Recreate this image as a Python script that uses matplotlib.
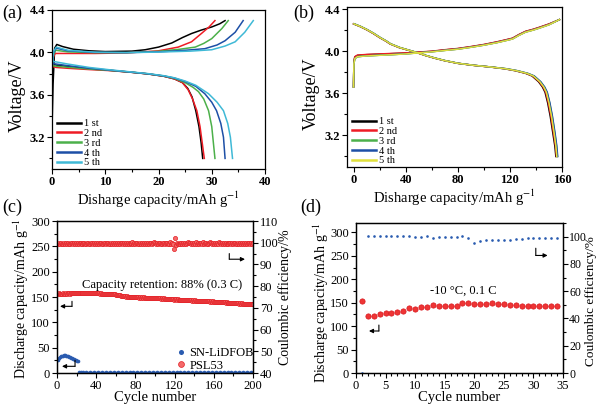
import matplotlib
matplotlib.use("Agg")
import matplotlib.pyplot as plt
from matplotlib.ticker import MultipleLocator

plt.rcParams['font.family'] = ['Liberation Serif', 'DejaVu Serif']
plt.rcParams['mathtext.fontset'] = 'stix'

# ---------------- (a) SN-LiDFOB charge / discharge, 5 cycles ----------------
cycle_labels = ["1 st", "2 nd", "3 rd", "4 th", "5 th"]
colors_a = ["#000000", "#ee1c25", "#4cb04a", "#1d4fa6", "#3fb9d6"]

a_chg_x = [
    [0, 0.2, 0.5, 0.9, 2, 4, 7, 10, 15, 17.5, 20, 22.5, 24.5, 26.2, 28, 30, 31.5, 32.5],
    [0, 0.3, 0.6, 3, 8, 14, 20, 23.7, 26.2, 28.1, 29.5, 30.6],
    [0, 0.3, 0.7, 3, 8, 14, 20, 24, 26.9, 28.5, 30, 31.9, 33.1],
    [0, 0.3, 0.8, 3, 8, 14, 20, 25, 28.7, 31, 32.5, 34.4, 35.9],
    [0, 0.3, 0.8, 3, 8, 14, 20, 26, 30, 32.5, 34.4, 36.2, 37.8],
]
a_chg_v = [
    [3.28, 3.70, 4.04, 4.075, 4.055, 4.03, 4.015, 4.008, 4.012, 4.025, 4.05, 4.089, 4.14, 4.178, 4.21, 4.24, 4.27, 4.30],
    [3.85, 3.96, 3.99, 3.99, 3.99, 3.995, 4.015, 4.05, 4.10, 4.18, 4.24, 4.30],
    [3.85, 3.98, 4.02, 4.005, 3.998, 3.998, 4.01, 4.03, 4.05, 4.085, 4.13, 4.225, 4.30],
    [3.85, 4.00, 4.04, 4.015, 4.00, 3.998, 4.005, 4.02, 4.035, 4.07, 4.11, 4.19, 4.30],
    [3.86, 4.01, 4.05, 4.02, 4.002, 3.998, 4.003, 4.012, 4.025, 4.06, 4.10, 4.19, 4.30],
]
a_dis_x = [
    [0, 0.2, 0.8, 3, 7, 11, 15, 18, 21, 23, 24.5, 25.5, 26.3, 27.0, 27.6, 28.0, 28.3],
    [0, 0.2, 0.8, 3, 7, 11, 15, 18, 21, 23, 24.5, 25.6, 26.4, 27.2, 27.8, 28.2, 28.6],
    [0, 0.2, 0.8, 3, 7, 11, 15, 18, 21, 23, 25, 26.5, 27.5, 28.5, 29.4, 30.0, 30.3, 30.6],
    [0, 0.2, 0.8, 3, 7, 11, 15, 18, 21, 23, 25, 27, 28.7, 30, 30.9, 31.7, 32.2, 32.5],
    [0, 0.2, 0.8, 3, 7, 11, 15, 18, 21, 23, 25, 27, 29.4, 31, 32.2, 33.0, 33.5, 33.9],
]
a_dis_v = [
    [3.93, 3.89, 3.88, 3.865, 3.845, 3.83, 3.812, 3.797, 3.775, 3.75, 3.715, 3.66, 3.58, 3.45, 3.30, 3.15, 3.0],
    [3.90, 3.865, 3.858, 3.85, 3.838, 3.828, 3.812, 3.797, 3.775, 3.75, 3.715, 3.645, 3.56, 3.45, 3.30, 3.15, 3.0],
    [3.91, 3.875, 3.87, 3.86, 3.843, 3.83, 3.813, 3.798, 3.777, 3.755, 3.715, 3.67, 3.63, 3.56, 3.45, 3.30, 3.15, 3.0],
    [3.93, 3.895, 3.89, 3.875, 3.85, 3.832, 3.813, 3.798, 3.778, 3.758, 3.725, 3.68, 3.61, 3.53, 3.45, 3.33, 3.20, 3.0],
    [3.95, 3.915, 3.91, 3.89, 3.858, 3.835, 3.815, 3.80, 3.78, 3.76, 3.73, 3.69, 3.61, 3.53, 3.45, 3.33, 3.20, 3.0],
]

# ---------------- (b) PSL53 charge / discharge, 5 cycles ----------------
colors_b = ["#000000", "#ee1c25", "#4cb04a", "#1d4fa6", "#e0e03c"]

b_chg_x = [0, 0.3, 1, 3, 10, 20, 30, 40, 50, 60, 70, 80, 90, 100, 110, 117, 122, 127, 132, 138, 143, 150, 158]
b_chg_v = [
    [3.66, 3.90, 3.945, 3.96, 3.967, 3.972, 3.977, 3.982, 3.99, 3.998, 4.012, 4.024, 4.042, 4.062, 4.087, 4.107, 4.122, 4.157, 4.187, 4.207, 4.227, 4.257, 4.30],
    [3.66, 3.90, 3.948, 3.963, 3.969, 3.974, 3.979, 3.984, 3.992, 4.0, 4.014, 4.026, 4.044, 4.064, 4.089, 4.109, 4.124, 4.159, 4.189, 4.209, 4.229, 4.259, 4.30],
    [3.66, 3.88, 3.93, 3.948, 3.956, 3.962, 3.968, 3.975, 3.985, 3.995, 4.008, 4.02, 4.038, 4.058, 4.082, 4.102, 4.117, 4.152, 4.182, 4.202, 4.222, 4.252, 4.30],
    [3.66, 3.88, 3.93, 3.948, 3.956, 3.962, 3.968, 3.975, 3.985, 3.995, 4.008, 4.02, 4.038, 4.058, 4.082, 4.102, 4.117, 4.152, 4.182, 4.202, 4.222, 4.252, 4.30],
    [3.66, 3.88, 3.93, 3.948, 3.955, 3.961, 3.967, 3.974, 3.984, 3.994, 4.007, 4.019, 4.037, 4.057, 4.081, 4.101, 4.116, 4.151, 4.181, 4.201, 4.221, 4.251, 4.30],
]
b_dis_v = [4.26, 4.235, 4.205, 4.17, 4.13, 4.095, 4.07, 4.035, 4.01, 3.985, 3.96, 3.935, 3.91, 3.885,
           3.866, 3.85, 3.833, 3.815, 3.79, 3.765, 3.71, 3.66, 3.61, 3.51, 3.38, 3.22, 3.10, 3.0]
b_dis_x = [
    [0, 5, 10, 15, 20, 25, 28, 35, 42, 49, 55, 62, 70, 80, 92, 105, 116, 124, 132, 137, 142, 145, 147, 149, 151, 153, 154.5, 155.3],
    [0, 5, 10, 15, 20, 25, 28, 35, 42, 49, 55, 62, 70, 80, 92, 105, 116.5, 124.5, 132.5, 137.5, 142.5, 145.5, 147.5, 149.5, 151.5, 153.5, 155, 155.8],
    [0.5, 5.5, 10.5, 15.5, 20.5, 25.5, 28.5, 35.5, 42.5, 49.5, 55.5, 62.5, 70.5, 80.5, 92.5, 105.5, 117.5, 125.5, 133.5, 138.5, 143.5, 146.5, 148.5, 150.5, 152.5, 154.5, 155.8, 156.5],
    [0.5, 5.5, 10.5, 15.5, 20.5, 25.5, 28.5, 35.5, 42.5, 49.5, 55.5, 62.5, 70.5, 80.5, 92.5, 105.5, 117.7, 125.7, 133.7, 138.7, 143.7, 146.7, 148.7, 150.7, 152.7, 154.7, 156, 156.7],
    [0.3, 5.3, 10.3, 15.3, 20.3, 25.3, 28.3, 35.3, 42.3, 49.3, 55.3, 62.3, 70.3, 80.3, 92.3, 105.3, 117, 125, 133, 138, 143, 146, 148, 150, 152, 154, 155.3, 156],
]

# ---------------- (c) long cycling at 0.3 C ----------------
cap_psl53 = [
    156.5, 157, 156, 156.8, 156.2, 157.1, 156.5, 156.9, 157.3, 156.7,
    157, 157.4, 156.8, 157.6, 157.2, 157.8, 157.3, 157.9, 157.5, 158,
    157.6, 158.2, 157.8, 158.4, 157.9, 158.3, 158.6, 158.1, 158.5, 158.2,
    158.4, 157.9, 158.3, 157.8, 158.1, 157.6, 157.9, 157.4, 157.8, 157.3,
    157.5, 157.1, 157.4, 156.8, 157.2, 156.6, 156.9, 156.4, 156.7, 156.2,
    156.5, 155.9, 156.3, 155.7, 156.1, 155.5, 155.8, 155.2, 155.6, 154.9,
    154.8, 154.1, 153.6, 153.1, 152.5, 152.2, 151.7, 151.3, 151.6, 150.9,
    151.2, 150.5, 150.8, 150.2, 150.6, 149.9, 150.3, 149.7, 150.1, 149.5,
    149.8, 149.2, 149.6, 149, 149.4, 148.8, 149.3, 148.7, 149.1, 148.5,
    149, 148.4, 148.8, 148.2, 148.7, 148.1, 148.5, 147.9, 148.4, 147.8,
    148.1, 147.5, 147.9, 147.2, 147.6, 146.9, 147.3, 146.7, 147.1, 146.5,
    146.9, 146.3, 146.7, 146.1, 146.5, 145.8, 146.2, 145.5, 143.5, 145.2,
    145.6, 144.9, 145.3, 144.6, 145, 144.3, 144.7, 144.1, 144.5, 143.9,
    144.2, 143.6, 144, 143.4, 143.8, 143.2, 143.6, 143, 143.4, 142.8,
    143.2, 142.6, 143, 142.4, 142.8, 142.2, 142.6, 142, 142.4, 141.8,
    142.1, 141.5, 141.9, 141.3, 141.7, 141.1, 141.5, 140.9, 141.2, 140.6,
    141, 140.4, 140.7, 140.1, 140.5, 139.8, 140.2, 139.6, 139.9, 139.3,
    139.6, 139, 139.3, 138.7, 139, 138.4, 138.7, 138.1, 138.5, 137.9,
    138.2, 137.6, 137.9, 137.3, 137.7, 137.1, 137.4, 136.8, 137.2, 136.6,
    137, 136.4, 136.8, 136.2, 136.6, 136, 136.4, 135.8, 136.2, 135.7,
]
ce_psl53 = [
    99.4, 99.7, 99.5, 99.8, 99.6, 99.5, 99.9, 99.6, 99.7, 99.4,
    99.8, 99.6, 99.5, 99.9, 99.7, 99.6, 99.8, 99.5, 99.7, 99.6,
    99.9, 99.5, 99.7, 99.8, 99.6, 99.4, 99.7, 99.9, 99.6, 99.5,
    99.8, 99.7, 99.5, 99.6, 99.9, 99.7, 99.4, 99.8, 99.6, 99.7,
    99.5, 99.8, 99.6, 99.9, 99.7, 99.5, 99.6, 99.8, 99.7, 99.4,
    99.7, 99.9, 99.6, 99.5, 99.8, 99.6, 99.7, 99.5, 99.9, 99.6,
    99.8, 99.5, 99.7, 99.6, 99.9, 99.7, 99.5, 99.8, 99.6, 99.7,
    99.4, 99.8, 99.6, 99.9, 99.5, 99.7, 100.4, 99.6, 99.8, 99.5,
    99.7, 99.9, 99.6, 99.5, 99.8, 99.6, 99.7, 99.4, 99.9, 99.6,
    99.8, 99.5, 99.7, 99.6, 99.9, 99.7, 99.5, 99.8, 100.4, 99.7,
    99.5, 99.8, 99.6, 99.9, 99.7, 99.5, 99.6, 99.8, 99.7, 99.4,
    99.7, 99.9, 99.6, 99.5, 100.3, 99.6, 99.7, 99.2, 97.3, 102.3,
    99.0, 99.8, 99.6, 99.5, 99.8, 99.6, 99.7, 99.5, 99.9, 99.6,
    99.8, 99.5, 99.7, 100.2, 99.9, 99.7, 99.5, 99.8, 99.6, 99.7,
    99.4, 100.3, 99.6, 99.9, 99.5, 99.7, 99.8, 99.6, 100.2, 99.5,
    99.7, 99.9, 99.6, 99.5, 99.8, 100.3, 99.7, 99.4, 99.9, 99.6,
    99.8, 99.5, 99.7, 99.6, 100.2, 99.7, 99.5, 99.8, 99.6, 99.7,
    99.4, 99.8, 99.6, 99.9, 99.5, 99.7, 99.8, 99.6, 99.9, 99.5,
    99.7, 99.9, 99.6, 99.5, 99.8, 99.6, 99.7, 99.4, 99.9, 99.6,
    99.8, 99.5, 99.7, 99.6, 99.9, 99.7, 99.5, 99.8, 99.6, 99.7,
]
cycles_c = list(range(1, 201))
cap_sn_early = [26, 29, 31, 33, 34, 34.5, 35, 35, 34.5, 34, 33, 32, 31, 30, 29, 28, 27, 26, 25, 24, 23.5]
cap_sn_late = [
    1.0, 0.9, 1.0, 0.8, 0.9, 1.0, 0.9, 0.8, 1.0, 0.9, 0.8, 0.9, 1.0, 0.9, 0.8, 0.9, 1.0, 0.9, 0.8, 0.9,
    1.0, 0.9, 0.8, 0.9, 1.0, 0.9, 0.8, 0.9, 1.0, 0.9, 0.8, 0.9, 1.0, 0.9, 0.8, 0.9, 1.0, 0.9, 0.8, 0.9,
    1.0, 0.9, 0.8, 0.9, 1.0, 0.9, 0.8, 0.9, 1.0, 0.9, 0.8, 0.9, 1.0, 0.9, 0.8, 0.9, 1.0, 0.9, 0.8, 0.9,
    1.0, 0.9, 0.8, 0.9, 1.0, 0.9, 0.8, 0.9, 1.0, 0.9, 0.8, 0.9, 1.0, 0.9, 0.8, 0.9, 1.0, 0.9, 0.8, 0.9,
    1.0, 0.9, 0.8, 0.9, 1.0, 0.9, 0.8, 0.9, 1.0, 0.9, 0.8, 0.9, 1.0, 0.9, 0.8, 0.9, 1.0, 0.9, 0.8, 0.9,
    1.0, 0.9, 0.8, 0.9, 1.0, 0.9, 0.8, 0.9, 1.0, 0.9, 0.8, 0.9, 1.0, 0.9, 0.8, 0.9, 1.0, 0.9, 0.8, 0.9,
    1.0, 0.9, 0.8, 0.9, 1.0, 0.9, 0.8, 0.9, 1.0, 0.9, 0.8, 0.9, 1.0, 0.9, 0.8, 0.9, 1.0, 0.9, 0.8, 0.9,
    1.0, 0.9, 0.8, 0.9, 1.0, 0.9, 0.8, 0.9, 1.0, 0.9, 0.8, 0.9, 1.0, 0.9, 0.8, 0.9, 1.0, 0.9, 0.8, 0.9,
    1.0, 0.9, 0.8, 0.9, 1.0, 0.9, 0.8, 0.9, 1.0, 0.9, 0.8, 0.9, 1.0, 0.9, 0.8, 0.9, 1.0, 0.9, 0.8,
]
cap_sn = cap_sn_early + cap_sn_late

# ---------------- (d) -10 C, 0.1 C ----------------
cycles_d = list(range(1, 35))
cap_d = [154, 121, 121, 125, 127, 128.5, 131, 133, 139, 137.6, 140.5, 140.5, 144.7, 143, 143, 143, 143,
         149.6, 149.6, 147.5, 147.5, 148, 149, 147.5, 147, 146, 146, 143, 143, 143, 143, 143, 143, 143]
ce_d = [0, 100.2, 100.7, 100.5, 100.5, 100.5, 100.5, 100.2, 100.5, 100, 100, 100.5, 99, 100, 99.7, 99.7, 99.7,
        100.5, 99, 95.1, 96.6, 97.8, 97.8, 97.3, 97.5, 97.8, 98.3, 98.3, 99.3, 99.3, 99.3, 99.3, 99, 99]

cap_label = "Discharge capacity/mAh g$^{-1}$"
dis_label = "Disharge capacity/mAh g$^{-1}$"
ce_label = "Coulombic efficiency/%"

fig = plt.figure(figsize=(6, 4.04), dpi=100)


def place(l, t, r, b):
    return fig.add_axes([l / 600, 1 - b / 404, (r - l) / 600, (b - t) / 404])


def style(ax, bold=False, size=8.5, right=False, pad=1.5):
    ax.tick_params(which='both', direction='out', labelsize=size, width=0.8)
    ax.tick_params(which='major', length=3.5, pad=pad)
    ax.tick_params(which='minor', length=2)
    if not right:
        ax.tick_params(top=False, right=False)
    for s in ax.spines.values():
        s.set_linewidth(0.9)
    if bold:
        for lab in ax.get_xticklabels() + ax.get_yticklabels():
            lab.set_fontweight('bold')


def voltage_panel(ax, colors, chg_x, chg_v, dis_x, dis_v, xlim, xmaj, xmin, leg_x, lab_x):
    for i in range(5):
        cx = chg_x[i] if isinstance(chg_x[0], list) else chg_x
        dv = dis_v[i] if isinstance(dis_v[0], list) else dis_v
        ax.plot(cx, chg_v[i], color=colors[i], lw=1.1, label=cycle_labels[i])
        ax.plot(dis_x[i], dv, color=colors[i], lw=1.1)
    ax.set_xlim(*xlim)
    ax.set_ylim(2.9, 4.4)
    ax.xaxis.set_major_locator(MultipleLocator(xmaj))
    ax.xaxis.set_minor_locator(MultipleLocator(xmin))
    ax.yaxis.set_minor_locator(MultipleLocator(0.2))
    ax.set_yticks([3.2, 3.6, 4.0, 4.4])
    ax.set_yticklabels(["3.2", "3.6", "4.0", "4.4"])
    style(ax, bold=True, size=9)
    ax.set_xlabel(dis_label, fontsize=10.5, labelpad=1)
    ax.set_ylabel("Voltage/V", fontsize=13)
    ax.yaxis.set_label_coords(lab_x, 0.46)
    leg = ax.legend(loc='lower left', bbox_to_anchor=(leg_x, 0.01), frameon=False, fontsize=7.5,
                    handlelength=2.3, handletextpad=0.3, labelspacing=0.05, borderpad=0, borderaxespad=0)
    for h in leg.get_lines():
        h.set_linewidth(1.8)


ax_a = place(52, 10, 265, 169)
voltage_panel(ax_a, colors_a, a_chg_x, a_chg_v, a_dis_x, a_dis_v, (0, 40), 10, 5, 0.025, -0.125)

ax_b = place(347, 7, 562, 167)
voltage_panel(ax_b, colors_b, b_chg_x, b_chg_v, b_dis_x, b_dis_v, (-5, 160), 40, 20, 0.025, -0.125)
ax_b.set_ylim(2.9, 4.42)

# ---- (c)
ax_c = place(57, 221, 253, 373)
ax_c2 = ax_c.twinx()
ln_sn, = ax_c.plot(cycles_c, cap_sn, 'o', ms=2.6, color="#2a5bb0", mew=0, label="SN-LiDFOB")
ln_ps, = ax_c.plot(cycles_c, cap_psl53, 'o', ms=3, mfc="#f46a6a", mec="#e31e24", mew=0.5, label="PSL53")
ax_c2.plot(cycles_c, ce_psl53, 'o', ms=3, mfc="#f46a6a", mec="#e31e24", mew=0.5)
ax_c.set_xlim(0, 200)
ax_c.set_ylim(0, 300)
ax_c2.set_ylim(40, 110)
ax_c.xaxis.set_major_locator(MultipleLocator(40))
ax_c.xaxis.set_minor_locator(MultipleLocator(20))
ax_c.yaxis.set_major_locator(MultipleLocator(50))
ax_c.yaxis.set_minor_locator(MultipleLocator(25))
ax_c2.yaxis.set_major_locator(MultipleLocator(10))
ax_c2.yaxis.set_minor_locator(MultipleLocator(5))
style(ax_c, size=9)
style(ax_c2, size=9, right=True)
ax_c.set_xlabel("Cycle number", fontsize=10.5, labelpad=-1)
ax_c.set_ylabel(cap_label, fontsize=10)
ax_c.yaxis.set_label_coords(-0.135, 0.49)
ax_c2.set_ylabel(ce_label, fontsize=10)
ax_c2.yaxis.set_label_coords(1.128, 0.5)
ax_c.text(0.536, 0.577, "Capacity retention: 88% (0.3 C)", transform=ax_c.transAxes,
          ha='center', va='center', fontsize=9)
ax_c2.legend([ln_sn, ln_ps], ["SN-LiDFOB", "PSL53"], loc='lower right', bbox_to_anchor=(1.01, 0.0),
             frameon=False, fontsize=9, handlelength=1.0, handletextpad=0.2, labelspacing=0.05,
             borderpad=0.1, borderaxespad=0, markerscale=1.4)
arr = dict(arrowstyle='-|>', lw=0.8, color='k', mutation_scale=6, shrinkA=0, shrinkB=0)
seg = dict(arrowstyle='-', lw=0.8, color='k', shrinkA=0, shrinkB=0)
ax_c.annotate('', xy=(15.3, 131.6), xytext=(15.3, 141.5), arrowprops=seg)
ax_c.annotate('', xy=(3.1, 131.6), xytext=(15.3, 131.6), arrowprops=arr)
ax_c.annotate('', xy=(18.4, 13.2), xytext=(18.4, 25), arrowprops=seg)
ax_c.annotate('', xy=(5.1, 13.2), xytext=(18.4, 13.2), arrowprops=arr)
ax_c2.annotate('', xy=(175.8, 92.4), xytext=(175.8, 95.0), arrowprops=seg)
ax_c2.annotate('', xy=(191.8, 92.4), xytext=(175.8, 92.4), arrowprops=arr)

# ---- (d)
ax_d = place(356, 223, 563, 373)
ax_d2 = ax_d.twinx()
ax_d.plot(cycles_d, cap_d, 'o', ms=3.8, mfc="#ee3535", mec="#d9161c", mew=0.5)
ax_d2.plot(cycles_d, ce_d, 'o', ms=1.9, color="#2a5bb0", mew=0)
ax_d.set_xlim(0, 35)
ax_d.set_ylim(0, 320)
ax_d2.set_ylim(0, 110)
ax_d.xaxis.set_major_locator(MultipleLocator(5))
ax_d.xaxis.set_minor_locator(MultipleLocator(1))
ax_d.yaxis.set_major_locator(MultipleLocator(50))
ax_d.yaxis.set_minor_locator(MultipleLocator(25))
ax_d2.yaxis.set_major_locator(MultipleLocator(20))
ax_d2.yaxis.set_minor_locator(MultipleLocator(10))
style(ax_d, size=9)
style(ax_d2, size=8.5, right=True, pad=1)
ax_d.set_xlabel("Cycle number", fontsize=10.5, labelpad=-1)
ax_d.set_ylabel(cap_label, fontsize=10)
ax_d.yaxis.set_label_coords(-0.12, 0.47)
ax_d2.set_ylabel(ce_label, fontsize=9.5)
ax_d2.yaxis.set_label_coords(1.106, 0.48)
ax_d.text(0.519, 0.546, "-10 \u00b0C, 0.1 C", transform=ax_d.transAxes,
          ha='center', va='center', fontsize=9)
ax_d.annotate('', xy=(3.87, 89.6), xytext=(3.87, 102.3), arrowprops=seg)
ax_d.annotate('', xy=(2.19, 89.6), xytext=(3.87, 89.6), arrowprops=arr)
ax_d2.annotate('', xy=(30.4, 86.2), xytext=(30.4, 91.5), arrowprops=seg)
ax_d2.annotate('', xy=(32.4, 86.2), xytext=(30.4, 86.2), arrowprops=arr)

# panel letters
for txt, x, y in [("(a)", 2, 13), ("(b)", 293, 13), ("(c)", 2, 207), ("(d)", 300, 207)]:
    fig.text(x / 600, 1 - y / 404, txt, fontsize=13, va='center', ha='left')

fig.savefig("out.png", dpi=100)
